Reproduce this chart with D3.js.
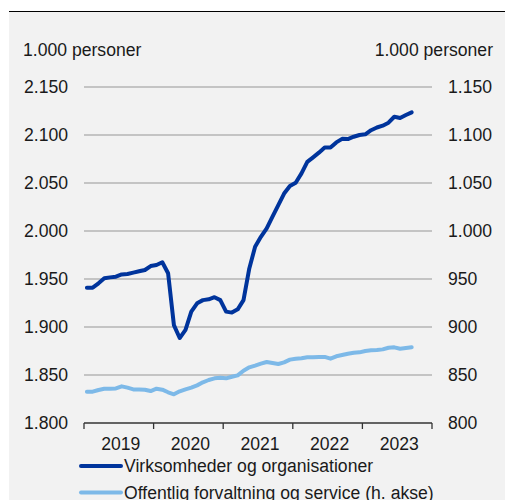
<!DOCTYPE html>
<html>
<head>
<meta charset="utf-8">
<script src="https://cdn.jsdelivr.net/npm/d3@7/dist/d3.min.js"></script>
<style>
html,body{margin:0;padding:0;background:#fff;}
text{font-family:"Liberation Sans",Arial,sans-serif;fill:#1a1a1a;}
</style>
</head>
<body>
<svg id="chart" width="506" height="500"></svg>
<script>
const years = ["2019","2020","2021","2022","2023"];
const monthsPerYear = 12;
const leftTicks = [1800,1850,1900,1950,2000,2050,2100,2150];
const rightTicks = [800,850,900,950,1000,1050,1100,1150];
const unitLabel = "1.000 personer";
const seriesNames = ["Virksomheder og organisationer","Offentlig forvaltning og service (h. akse)"];
// Monthly, Jan 2019 – Sep 2023
const virksomheder = [1941,1941,1945.5,1950.7,1951.7,1952.4,1954.8,1955.2,1956.6,1958,1959.4,1963.5,
  1964.6,1967.4,1956,1902,1888.5,1897,1916,1924.7,1928,1928.8,1931,1928,
  1916,1915,1918.4,1928,1961,1983.7,1994,2002.8,2015,2027,2039,2046.9,
  2050.3,2060,2072,2076.7,2081.6,2087,2087,2092.3,2096,2095.8,2098.2,2100,
  2100.7,2105,2107.8,2109.7,2112.8,2119,2117.7,2120.8,2123.6];
const offentlig = [832.6,832.6,834.4,835.7,835.7,836,838.2,836.8,835,835,834.7,833.3,
  835.7,834.7,832,829.9,833,835,836.8,839.2,842.4,844.8,846.5,847.2,
  846.5,848.2,849.6,854.5,858,859.8,861.8,863.5,862.5,861.5,863.2,866,
  867,867.4,868.4,868.4,868.8,868.8,867,869.5,870.8,872.2,873.2,873.6,
  875,875.7,876,876.7,878.4,878.8,877.4,878.1,878.8];

const colors = ["#00349c","#7db9e8"];
const svg = d3.select("#chart");
const fs = 17.6;

// background panel
svg.append("rect").attr("x",9).attr("y",12).attr("width",496).attr("height",488).attr("fill","#f2f2f2");
svg.append("line").attr("x1",9).attr("x2",505).attr("y1",11.5).attr("y2",11.5).attr("stroke","#000").attr("stroke-width",1.2);

const x0 = 84, x1 = 432, yTop = 87, yBot = 423;
const nMonths = years.length*monthsPerYear;
const x = d3.scaleLinear().domain([0,nMonths]).range([x0,x1]);
const xYear = d3.scaleBand().domain(years).range([x0,x1]);
const yL = d3.scaleLinear().domain([1800,2150]).range([yBot,yTop]);
const yR = d3.scaleLinear().domain([800,1150]).range([yBot,yTop]);

// gridlines
svg.append("g").selectAll("line").data(leftTicks.slice(1)).join("line")
  .attr("x1",x0).attr("x2",x1).attr("y1",d=>yL(d)).attr("y2",d=>yL(d))
  .attr("stroke","#b4b4b4").attr("stroke-width",1.3);

// axis labels
const fmt = d => d3.format(",")(d).replace(/,/g,".");
svg.append("g").selectAll("text").data(leftTicks).join("text")
  .attr("x",68).attr("y",d=>yL(d)).attr("dy","0.36em").attr("text-anchor","end")
  .attr("font-size",fs).text(fmt);
svg.append("g").selectAll("text").data(rightTicks).join("text")
  .attr("x",448).attr("y",d=>yR(d)).attr("dy","0.36em").attr("text-anchor","start")
  .attr("font-size",fs).text(fmt);
svg.append("text").attr("x",23).attr("y",56).attr("font-size",fs).text(unitLabel);
svg.append("text").attr("x",493).attr("y",56).attr("text-anchor","end").attr("font-size",fs).text(unitLabel);

// x axis
const xAxis = svg.append("g").attr("transform",`translate(0,${yBot})`)
  .call(d3.axisBottom(xYear).tickSize(0).tickFormat(d=>d));
xAxis.select(".domain").remove();
xAxis.selectAll("text").attr("font-size",fs).attr("y",14.5).attr("dx",2)
  .style("font-family","'Liberation Sans',Arial,sans-serif").attr("fill","#1a1a1a");
const boundaries = d3.range(years.length+1).map(i=>i*monthsPerYear);
svg.append("g").selectAll("line").data(boundaries).join("line")
  .attr("x1",d=>x(d)).attr("x2",d=>x(d)).attr("y1",yBot).attr("y2",yBot+6)
  .attr("stroke","#333").attr("stroke-width",1.3);
svg.append("line").attr("x1",x0).attr("x2",x1).attr("y1",yBot).attr("y2",yBot)
  .attr("stroke","#333").attr("stroke-width",1.5);

// lines
const lineL = d3.line().x((d,i)=>x(i+0.5)).y(d=>yL(d));
const lineR = d3.line().x((d,i)=>x(i+0.5)).y(d=>yR(d));
svg.append("path").datum(offentlig).attr("d",lineR).attr("fill","none")
  .attr("stroke",colors[1]).attr("stroke-width",4).attr("stroke-linejoin","round").attr("stroke-linecap","round");
svg.append("path").datum(virksomheder).attr("d",lineL).attr("fill","none")
  .attr("stroke",colors[0]).attr("stroke-width",4).attr("stroke-linejoin","round").attr("stroke-linecap","round");

// legend
const leg = svg.append("g");
seriesNames.forEach((name,i)=>{
  const yy = 466 + i*26.5;
  leg.append("line").attr("x1",81).attr("x2",121).attr("y1",yy).attr("y2",yy)
    .attr("stroke",colors[i]).attr("stroke-width",4).attr("stroke-linecap","round");
  leg.append("text").attr("x",124).attr("y",yy).attr("dy","0.36em").attr("font-size",fs).text(name);
});
</script>
</body>
</html>
